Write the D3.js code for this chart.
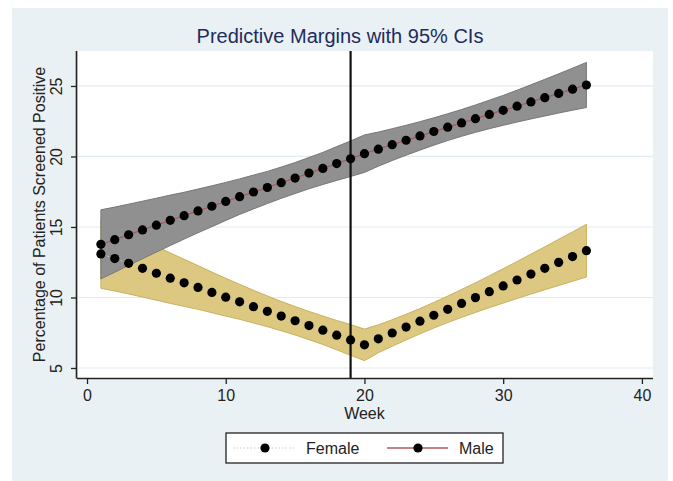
<!DOCTYPE html>
<html>
<head>
<meta charset="utf-8">
<script src="https://cdn.jsdelivr.net/npm/d3@7"></script>
<style>
  html, body { margin: 0; padding: 0; background: #ffffff; }
  svg { display: block; font-family: "Liberation Sans", Arial, sans-serif; }
</style>
</head>
<body>
<svg id="chart" width="673" height="481"></svg>
<script>
// Predictive margins by week, with 95% confidence limits
const weeks = [1,2,3,4,5,6,7,8,9,10,11,12,13,14,15,16,17,18,19,20,21,22,23,24,25,26,27,28,29,30,31,32,33,34,35,36];

const maleMargin = [13.77,14.10,14.45,14.79,15.13,15.47,15.80,16.14,16.47,16.81,17.15,17.48,17.80,18.14,18.47,18.82,19.15,19.50,19.84,20.20,20.52,20.84,21.15,21.46,21.77,22.08,22.38,22.68,22.98,23.27,23.57,23.87,24.17,24.47,24.77,25.07];
const maleUpper  = [16.22,16.41,16.62,16.83,17.04,17.26,17.46,17.69,17.92,18.16,18.41,18.68,18.94,19.25,19.57,19.93,20.29,20.70,21.10,21.53,21.73,21.97,22.21,22.47,22.74,23.03,23.33,23.65,23.99,24.33,24.70,25.08,25.47,25.86,26.26,26.67];
const maleLower  = [11.32,11.79,12.28,12.75,13.22,13.68,14.14,14.59,15.02,15.46,15.89,16.28,16.66,17.03,17.37,17.71,18.01,18.30,18.58,18.87,19.31,19.71,20.09,20.45,20.80,21.13,21.43,21.71,21.97,22.21,22.44,22.66,22.87,23.08,23.28,23.47];

const femaleMargin = [13.09,12.76,12.42,12.07,11.72,11.37,11.04,10.71,10.36,10.02,9.69,9.35,9.02,8.68,8.35,8.01,7.68,7.33,6.99,6.64,7.07,7.48,7.90,8.32,8.74,9.16,9.58,9.99,10.41,10.82,11.24,11.66,12.07,12.49,12.90,13.32];
const femaleUpper  = [15.53,15.06,14.59,14.11,13.63,13.16,12.71,12.26,11.80,11.36,10.93,10.51,10.11,9.72,9.36,9.01,8.69,8.37,8.08,7.76,8.06,8.42,8.81,9.22,9.65,10.10,10.57,11.04,11.54,12.04,12.55,13.08,13.59,14.13,14.65,15.19];
const femaleLower  = [10.65,10.46,10.25,10.03,9.81,9.58,9.37,9.16,8.92,8.68,8.45,8.19,7.93,7.64,7.34,7.01,6.67,6.29,5.90,5.52,6.08,6.54,6.99,7.42,7.83,8.22,8.59,8.94,9.28,9.60,9.93,10.24,10.55,10.85,11.15,11.45];

const xTicks = [0, 10, 20, 30, 40];
const yTicks = [5, 10, 15, 20, 25];
const referenceWeek = 19;

const titleText = "Predictive Margins with 95% CIs";
const xTitle = "Week";
const yTitle = "Percentage of Patients Screened Positive";
const seriesNames = ["Female", "Male"];

const svg = d3.select("#chart");

// outer graph region
svg.append("rect").attr("x", 12).attr("y", 8).attr("width", 656).attr("height", 473).attr("fill", "#eaf1f4");

const plot = { left: 78, right: 653, top: 51, bottom: 378 };
svg.append("rect").attr("x", plot.left).attr("y", plot.top)
  .attr("width", plot.right - plot.left).attr("height", plot.bottom - plot.top).attr("fill", "#ffffff");

const x = d3.scaleLinear().domain([-0.65, 40.8]).range([plot.left, plot.right]);
const y = d3.scaleLinear().domain([4.29, 27.48]).range([plot.bottom, plot.top]);

// gridlines
svg.append("g").selectAll("line").data(yTicks).join("line")
  .attr("x1", plot.left).attr("x2", plot.right)
  .attr("y1", d => y(d)).attr("y2", d => y(d))
  .attr("stroke", "#e2ebef").attr("stroke-width", 1.2);

const male = weeks.map((w, i) => ({ w, m: maleMargin[i], lo: maleLower[i], hi: maleUpper[i] }));
const female = weeks.map((w, i) => ({ w, m: femaleMargin[i], lo: femaleLower[i], hi: femaleUpper[i] }));

const band = d3.area().x(d => x(d.w)).y0(d => y(d.lo)).y1(d => y(d.hi));
const line = d3.line().x(d => x(d.w)).y(d => y(d.m));

// confidence bands
svg.append("path").datum(female).attr("d", band)
  .attr("fill", "#dcc880").attr("stroke", "#c9b15e").attr("stroke-width", 1);
svg.append("path").datum(male).attr("d", band)
  .attr("fill", "#909090").attr("stroke", "#777777").attr("stroke-width", 1);

// reference line
svg.append("line")
  .attr("x1", x(referenceWeek)).attr("x2", x(referenceWeek))
  .attr("y1", plot.top).attr("y2", plot.bottom)
  .attr("stroke", "#111111").attr("stroke-width", 2.2);

// margin lines and markers
svg.append("path").datum(female).attr("d", line)
  .attr("fill", "none").attr("stroke", "#c9c9c9").attr("stroke-width", 1).attr("stroke-dasharray", "1.5,2");
svg.append("path").datum(male).attr("d", line)
  .attr("fill", "none").attr("stroke", "#b0585a").attr("stroke-width", 1.3);

svg.append("g").selectAll("circle").data(female).join("circle")
  .attr("cx", d => x(d.w)).attr("cy", d => y(d.m)).attr("r", 4.6).attr("fill", "#000000");
svg.append("g").selectAll("circle").data(male).join("circle")
  .attr("cx", d => x(d.w)).attr("cy", d => y(d.m)).attr("r", 4.6).attr("fill", "#000000");

// axes
const xAxis = d3.axisBottom(x).tickValues(xTicks).tickSize(6).tickPadding(6);
const gx = svg.append("g").attr("transform", `translate(0,${plot.bottom})`).call(xAxis);
gx.select(".domain").attr("d", `M${plot.left - 1},0.5H${plot.right}`).attr("stroke", "#222").attr("stroke-width", 1.6);
gx.selectAll(".tick line").attr("stroke", "#222").attr("stroke-width", 1.3);
gx.selectAll(".tick text").attr("font-size", 16).attr("fill", "#222")
  .attr("font-family", "Liberation Sans, Arial, sans-serif");

const yAxis = d3.axisLeft(y).tickValues(yTicks).tickSize(6).tickPadding(5);
const gy = svg.append("g").attr("transform", `translate(${plot.left - 1},0)`).call(yAxis);
gy.select(".domain").attr("d", `M-0.5,${plot.top}V${plot.bottom + 0.5}`).attr("stroke", "#222").attr("stroke-width", 1.6);
gy.selectAll(".tick line").attr("stroke", "#222").attr("stroke-width", 1.3);
gy.selectAll(".tick text")
  .attr("font-size", 16).attr("fill", "#222")
  .attr("font-family", "Liberation Sans, Arial, sans-serif")
  .attr("text-anchor", "middle").attr("dy", null).attr("x", null)
  .attr("transform", "translate(-21,0) rotate(-90)")
  .attr("dominant-baseline", "central");

// titles
svg.append("text").attr("x", 340).attr("y", 43).attr("text-anchor", "middle")
  .attr("font-size", 20).attr("fill", "#1e2b5e").text(titleText);
svg.append("text").attr("x", x(20)).attr("y", 419).attr("text-anchor", "middle")
  .attr("font-size", 16).attr("fill", "#222").text(xTitle);
svg.append("text").attr("transform", `translate(45,${(plot.top + plot.bottom) / 2}) rotate(-90)`)
  .attr("text-anchor", "middle").attr("font-size", 16).attr("fill", "#222").text(yTitle);

// legend
const lg = svg.append("g");
lg.append("rect").attr("x", 226).attr("y", 433).attr("width", 277).attr("height", 30)
  .attr("fill", "#ffffff").attr("stroke", "#222").attr("stroke-width", 1.3);
lg.append("line").attr("x1", 233).attr("x2", 296).attr("y1", 448).attr("y2", 448)
  .attr("stroke", "#c9c9c9").attr("stroke-width", 1).attr("stroke-dasharray", "1.5,2");
lg.append("circle").attr("cx", 265).attr("cy", 448).attr("r", 4.6).attr("fill", "#000");
lg.append("text").attr("x", 306).attr("y", 454).attr("font-size", 16).attr("fill", "#222").text(seriesNames[0]);
lg.append("line").attr("x1", 387).attr("x2", 448).attr("y1", 448).attr("y2", 448)
  .attr("stroke", "#b0585a").attr("stroke-width", 1.3);
lg.append("circle").attr("cx", 418).attr("cy", 448).attr("r", 4.6).attr("fill", "#000");
lg.append("text").attr("x", 459).attr("y", 454).attr("font-size", 16).attr("fill", "#222").text(seriesNames[1]);
</script>
</body>
</html>
